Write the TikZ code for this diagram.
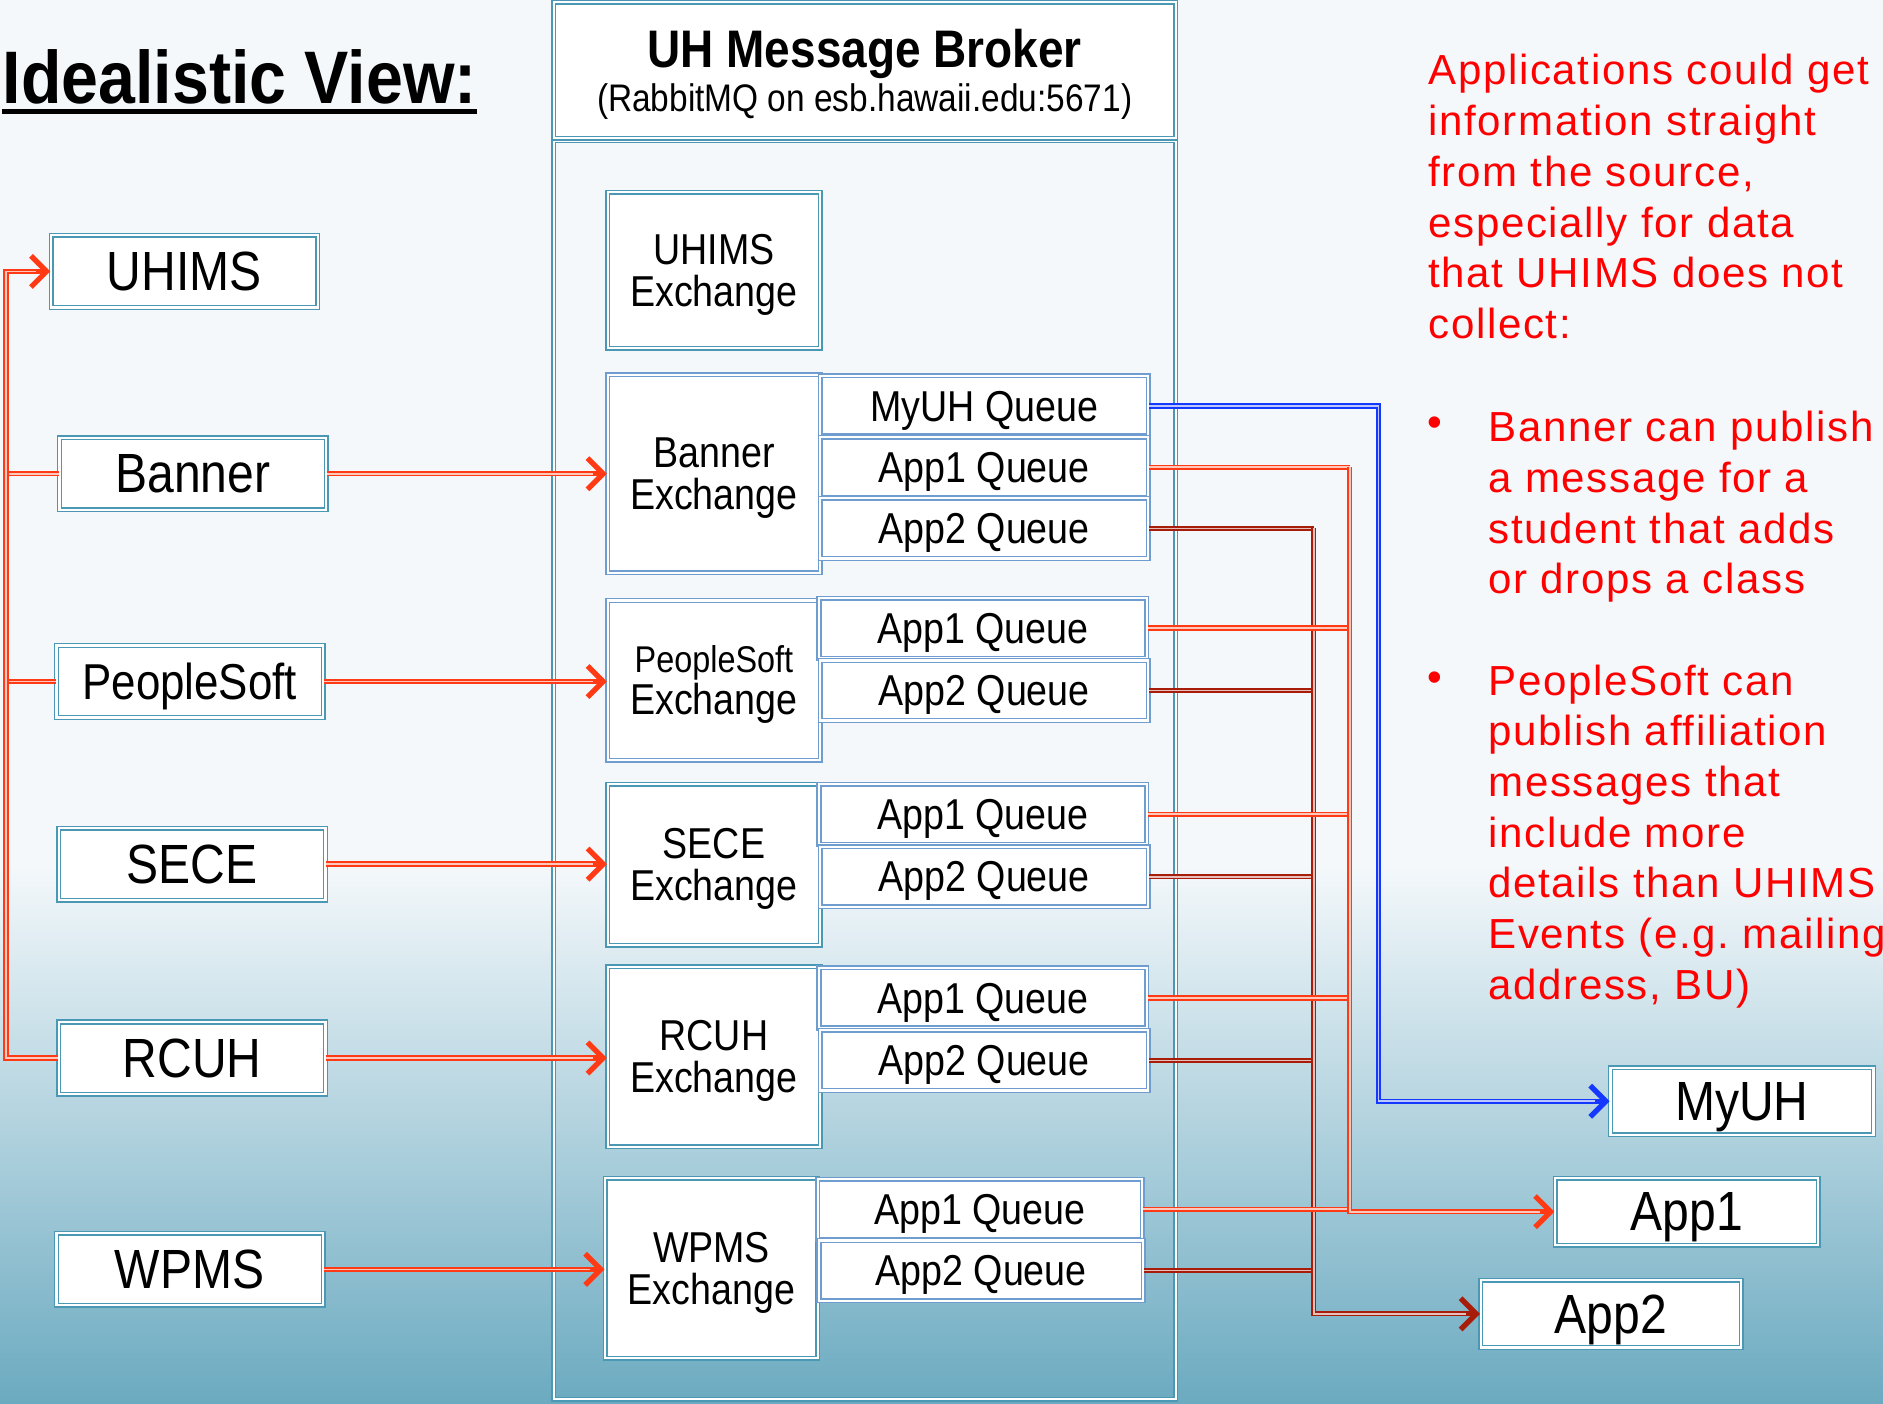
\documentclass[tikz,border=0pt]{standalone}
\usepackage{fontspec}
\setmainfont{Liberation Sans}
\newfontfamily\boxfont[FakeStretch=0.87]{Liberation Sans}
\newfontfamily\titlefont[FakeStretch=0.89]{Liberation Sans}
\newfontfamily\notefont[LetterSpace=4]{Liberation Sans}
\usetikzlibrary{arrows.meta}
\definecolor{bgtop}{HTML}{F4F8FB}
\definecolor{bgmid}{HTML}{C3DFE8}
\definecolor{bgbot}{HTML}{6BAAC0}
\definecolor{boxteal}{HTML}{4A98B4}
\definecolor{qblue}{HTML}{6F9DD0}
\definecolor{srcred}{HTML}{FF3A14}
\definecolor{app2red}{HTML}{A81C0A}
\definecolor{myblue}{HTML}{1438FF}
\definecolor{notered}{HTML}{FF0000}
\tikzset{>={Straight Barb[length=6.5pt,width=13pt,line width=2.2pt 0]}}
\tikzset{box/.style={draw=#1, double=white, double distance=0.9pt, line width=0.6pt, fill=white, inner sep=0pt, align=center}}

\begin{document}
\frenchspacing
\begin{tikzpicture}[x=0.5pt, y=-0.5pt,
	src/.style={box=boxteal, minimum width=111pt, minimum height=30pt, text depth=0pt, font={\boxfont\fontsize{23}{24}\selectfont}},
	exch/.style={box=#1, minimum width=88.5pt, font={\boxfont\fontsize{18}{17.5}\selectfont}},
	queue/.style={box=qblue, minimum width=136.5pt, minimum height=25pt, text depth=0pt, font={\boxfont\fontsize{18}{20}\selectfont}},
	frame/.style={draw=boxteal, double=white, double distance=0.9pt, line width=0.6pt},
	link/.style={draw=#1, line width=2.2pt, postaction={draw=#1!28!white, line width=0.7pt, -}},
	linkto/.style={draw=#1, line width=2.2pt, ->, postaction={draw=#1!28!white, line width=0.7pt, -, shorten >=6pt}},
	note/.style={text=notered, font={\notefont\fontsize{17.5}{21.1}\selectfont}, align=left, inner sep=0pt}]

\fill[bgtop] (0,0) rectangle (1568,1169);
\shade[top color=bgtop, middle color=bgmid, bottom color=bgbot] (0,720) rectangle (1568,1169);
\useasboundingbox (0,0) rectangle (1568,1169);

\node[anchor=base west, inner sep=0pt, font={\titlefont\bfseries\fontsize{31}{34}\selectfont}] (TTL) at (2,86) {Idealistic View:};
\draw[line width=2pt] ([yshift=-3.5pt]TTL.base west) -- ([yshift=-3.5pt]TTL.base east);

% broker
\draw[frame] (461,117) rectangle (979,1165);
\node[box=boxteal, minimum width=259pt, minimum height=56.5pt] (BRK) at (720,58.5) {{\boxfont\bfseries\fontsize{22}{24}\selectfont UH Message Broker}\\[6pt]{\boxfont\fontsize{16}{19}\selectfont \smash{(RabbitMQ on esb.hawaii.edu:5671)}}};

% sources
\node[src] (UHIMS) at (153.5,226) {UHIMS};
\node[src] (BAN) at (160.5,394.5) {Banner};
\node[src, font={\boxfont\fontsize{21}{24}\selectfont}] (PSFT) at (158,567.5) {PeopleSoft};
\node[src] (SECE) at (160,719.5) {SECE};
\node[src] (RCUH) at (160,881) {RCUH};
\node[src] (WPMS) at (158,1057) {WPMS};

% exchanges
\node[exch=boxteal, minimum height=65pt] (UHX) at (594.5,225) {UHIMS\\\smash{Exchange}};
\node[exch=qblue, minimum height=82.5pt] (BANX) at (594.5,394.5) {Banner\\\smash{Exchange}};
\node[exch=qblue, minimum height=66.5pt] (PSX) at (594.5,566.5) {{\fontsize{15.5}{17.5}\selectfont PeopleSoft}\\\smash{Exchange}};
\node[exch=boxteal, minimum height=67pt] (SECEX) at (594.5,720) {SECE\\\smash{Exchange}};
\node[exch=boxteal, minimum height=75pt] (RCUHX) at (594.5,880) {RCUH\\\smash{Exchange}};
\node[exch=boxteal, minimum height=75pt] (WPMSX) at (592.5,1056) {WPMS\\\smash{Exchange}};

% queues
\node[queue] (MYQ) at (819.5,338) {MyUH Queue};
\node[queue] (BQ1) at (819.5,389) {App1 Queue};
\node[queue] (BQ2) at (819.5,440) {App2 Queue};
\node[queue] (PQ1) at (818.5,523) {App1 Queue};
\node[queue] (PQ2) at (819.5,575) {App2 Queue};
\node[queue] (SQ1) at (818.5,678) {App1 Queue};
\node[queue] (SQ2) at (819.5,730) {App2 Queue};
\node[queue] (RQ1) at (818.5,831) {App1 Queue};
\node[queue] (RQ2) at (819.5,883) {App2 Queue};
\node[queue, minimum width=135pt] (WQ1) at (816,1007) {App1 Queue};
\node[queue, minimum width=135pt] (WQ2) at (817,1058) {App2 Queue};

% consumers
\node[src, minimum width=109.5pt, minimum height=28pt] (MYUH) at (1450.5,917) {MyUH};
\node[src, minimum width=109.5pt, minimum height=28pt] (APP1) at (1404.5,1009) {App1};
\node[src, minimum width=108.5pt, minimum height=28pt] (APP2) at (1341.5,1094) {App2};

\coordinate (SRCBUS) at (5,0);
\coordinate (BLUEBUS) at (1148,0);
\coordinate (APP1BUS) at (1124,0);
\coordinate (APP2BUS) at (1094,0);

% publishers
\draw[link=srcred] (BAN.west) -- (BAN.west -| SRCBUS);
\draw[link=srcred] (PSFT.west) -- (PSFT.west -| SRCBUS);
\draw[linkto=srcred] (RCUH.west) -- (RCUH.west -| SRCBUS) |- (UHIMS.west);

\foreach \s/\x in {BAN/BANX, PSFT/PSX, SECE/SECEX, RCUH/RCUHX, WPMS/WPMSX}
	\draw[linkto=srcred] (\s.east) -- (\s.east -| \x.west);

% consumers
\foreach \q in {BQ2, PQ2, SQ2, RQ2, WQ2}
	\draw[link=app2red] (\q.east) -- (\q.east -| APP2BUS);
\draw[linkto=app2red] (BQ2.east -| APP2BUS) |- (APP2.west);

\foreach \q in {BQ1, PQ1, SQ1, RQ1, WQ1}
	\draw[link=srcred] (\q.east) -- (\q.east -| APP1BUS);
\draw[linkto=srcred] (BQ1.east -| APP1BUS) |- (APP1.west);

\draw[linkto=myblue] (MYQ.east) -- (MYQ.east -| BLUEBUS) |- (MYUH.west);

% notes
\node[note, anchor=north west] (INTRO) at (1189,45) {Applications could get\\information straight\\from the source,\\especially for data\\that UHIMS does not\\collect:};
\node[note] (DOT1) at (1195,355) {\textbullet};
\node[note, anchor=north west] (NOTE1) at (1239,342) {Banner can publish\\a message for a\\student that adds\\or drops a class};
\node[note] (DOT2) at (1195,568) {\textbullet};
\node[note, anchor=north west] (NOTE2) at (1239,553) {PeopleSoft can\\publish affiliation\\messages that\\include more\\details than UHIMS\\Events (e.g. mailing\\address, BU)};
\end{tikzpicture}
\end{document}
